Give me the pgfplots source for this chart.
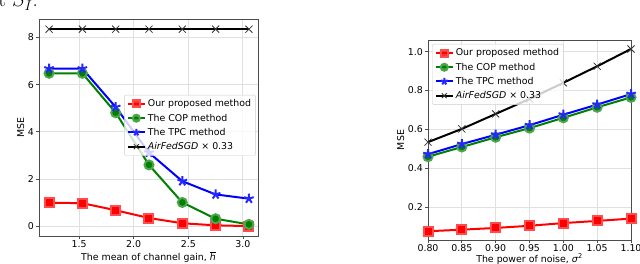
\documentclass[border=0pt]{standalone}
\usepackage{pgfplots}
\pgfplotsset{compat=1.18}
\usepackage{fontspec}
\setsansfont{DejaVu Sans}
\renewcommand{\familydefault}{\sfdefault}
\definecolor{gridgray}{RGB}{224,224,224}
\definecolor{mplgreen}{RGB}{0,128,0}
\pgfplotsset{
  every axis/.append style={
    scale only axis,
    font=\fontsize{9.4}{11}\selectfont,
    /pgf/number format/assume math mode=true,
    grid=major,
    major grid style={gridgray, line width=0.9pt},
    axis line style={black!70, line width=0.8pt},
    tick align=outside,
    major tick length=3pt,
    tick style={black!70, line width=0.8pt},
    xtick pos=bottom, ytick pos=left,
    xticklabel style={inner sep=1pt},
    yticklabel style={inner sep=2pt},
    clip mode=global,
    legend cell align=left,
    legend image post style={mark size=3.5pt},
    legend style={font=\fontsize{9.4}{11}\selectfont, fill opacity=0.8, draw opacity=1, text opacity=1, draw=black!20, rounded corners=2pt, inner sep=2.5pt, row sep=1.6pt},
  },
  redl/.style={red, line width=2pt, mark=square*, mark size=4.5pt, mark options={solid, fill=red, draw=red!70}},
  greenl/.style={mplgreen, line width=2pt, mark=*, mark size=4.5pt, mark options={solid, fill=mplgreen, draw=mplgreen!70}},
  bluel/.style={blue, line width=2pt, mark=star, mark size=5pt, mark options={solid, line width=2pt, fill=blue, draw=blue!85}},
  blackl/.style={black, line width=2pt, mark=x, mark size=5pt, mark options={solid, line width=0.8pt, draw=black!80}},
}
\begin{document}
\begin{tikzpicture}[x=1pt,y=1pt]
\path[use as bounding box] (0,0) rectangle (640,264);
\begin{scope}
\clip (0,0) rectangle (640,264);
\node[anchor=base west, inner sep=0pt, font=\rmfamily\fontsize{21}{23}\selectfont] at (-7,257) {it $S_I$:};
\end{scope}
% Left axis
\begin{axis}[
  at={(39pt,28pt)}, anchor=south west,
  width=219pt, height=217pt,
  xmin=1.133, xmax=3.138, ymin=-0.41, ymax=8.78,
  xtick={1.5,2.0,2.5,3.0},
  xticklabel style={/pgf/number format/.cd, fixed, fixed zerofill, precision=1},
  ytick={0,2,4,6,8},
  xlabel={The mean of channel gain, $\overline{\mbox{\itshape h}}$},
  ylabel={MSE},
  xlabel style={yshift=0pt},
  ylabel style={yshift=-2pt},
  legend style={at={(0.99,0.37)}, anchor=south east},
]
\addplot[redl] coordinates {(1.225,1.00) (1.53,0.98) (1.835,0.68) (2.14,0.35) (2.445,0.13) (2.75,0.04) (3.055,0.01)};
\addlegendentry{Our proposed method}
\addplot[greenl] coordinates {(1.225,6.48) (1.53,6.48) (1.835,4.81) (2.14,2.60) (2.445,1.01) (2.75,0.32) (3.055,0.08)};
\addlegendentry{The COP method}
\addplot[bluel] coordinates {(1.225,6.68) (1.53,6.68) (1.835,5.05) (2.14,3.12) (2.445,1.91) (2.75,1.35) (3.055,1.17)};
\addlegendentry{The TPC method}
\addplot[blackl] coordinates {(1.225,8.35) (1.53,8.35) (1.835,8.35) (2.14,8.35) (2.445,8.35) (2.75,8.35) (3.055,8.35)};
\addlegendentry{\textit{AirFedSGD} × 0.33}
\node[anchor=south west, inner sep=1pt, font=\fontsize{8}{9}\selectfont] at (rel axis cs:0,1) {×10\textsuperscript{−4}};
\end{axis}
% Right axis
\begin{axis}[
  at={(428pt,24pt)}, anchor=south west,
  width=203pt, height=200pt,
  xmin=0.80, xmax=1.10, ymin=0.032, ymax=1.06,
  xtick={0.80,0.85,0.90,0.95,1.00,1.05,1.10},
  xticklabel style={/pgf/number format/.cd, fixed, fixed zerofill, precision=2},
  ytick={0.2,0.4,0.6,0.8,1.0},
  yticklabel style={/pgf/number format/.cd, fixed, fixed zerofill, precision=1},
  xlabel={The power of noise, \textit{σ}\textsuperscript{2}},
  ylabel={MSE},
  xlabel style={yshift=2.5pt},
  ylabel style={yshift=-2pt},
  legend style={at={(0.02,0.98)}, anchor=north west},
]
\addplot[redl] coordinates {(0.80,0.077) (0.85,0.085) (0.90,0.094) (0.95,0.105) (1.00,0.119) (1.05,0.130) (1.10,0.142)};
\addlegendentry{Our proposed method}
\addplot[greenl] coordinates {(0.80,0.460) (0.85,0.510) (0.90,0.560) (0.95,0.607) (1.00,0.660) (1.05,0.714) (1.10,0.765)};
\addlegendentry{The COP method}
\addplot[bluel] coordinates {(0.80,0.473) (0.85,0.525) (0.90,0.573) (0.95,0.622) (1.00,0.676) (1.05,0.728) (1.10,0.782)};
\addlegendentry{The TPC method}
\addplot[blackl] coordinates {(0.80,0.535) (0.85,0.603) (0.90,0.680) (0.95,0.757) (1.00,0.840) (1.05,0.925) (1.10,1.014)};
\addlegendentry{\textit{AirFedSGD} × 0.33}
\node[anchor=south west, inner sep=1pt, font=\fontsize{8}{9}\selectfont] at (rel axis cs:0,1) {×10\textsuperscript{−3}};
\end{axis}
\end{tikzpicture}
\end{document}
